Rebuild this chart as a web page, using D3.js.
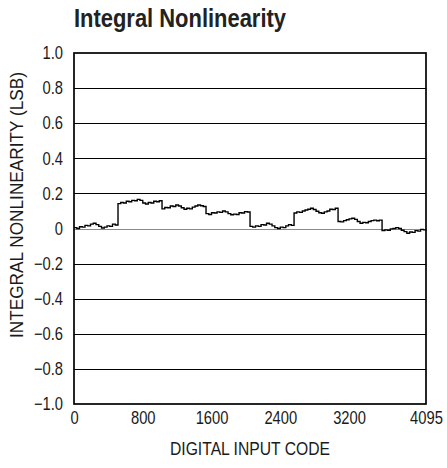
<!DOCTYPE html>
<html><head><meta charset="utf-8">
<script src="https://cdn.jsdelivr.net/npm/d3@7/dist/d3.min.js"></script>
<style>body{margin:0;background:#fff}svg{display:block}</style>
</head><body>
<script>
const title = "Integral Nonlinearity";
const xLabel = "DIGITAL INPUT CODE";
const yLabel = "INTEGRAL NONLINEARITY (LSB)";
const xTicks = [0, 800, 1600, 2400, 3200, 4095];
const yTicks = [-1.0, -0.8, -0.6, -0.4, -0.2, 0, 0.2, 0.4, 0.6, 0.8, 1.0];
const codeStep = 32;
// INL samples, one every 32 codes (0 .. 4064), plus final code 4095
const inl = [
  0.005, 0.0, 0.01, 0.008, 0.018, 0.015, 0.025, 0.03, 0.022, 0.012, 0.003, 0.008, 0.015, 0.012, 0.025, 0.02,
  0.142, 0.148, 0.145, 0.155, 0.152, 0.16, 0.158, 0.166, 0.16, 0.145, 0.14, 0.148, 0.145, 0.155, 0.152, 0.158,
  0.112, 0.12, 0.118, 0.128, 0.125, 0.134, 0.128, 0.118, 0.11, 0.115, 0.112, 0.122, 0.128, 0.134, 0.13, 0.125,
  0.085, 0.08, 0.09, 0.088, 0.095, 0.092, 0.1, 0.095, 0.085, 0.078, 0.082, 0.08, 0.09, 0.088, 0.096, 0.094,
  0.012, 0.008, 0.015, 0.012, 0.022, 0.02, 0.03, 0.025, 0.015, 0.005, 0.0, 0.008, 0.005, 0.015, 0.022, 0.018,
  0.088, 0.095, 0.092, 0.1, 0.105, 0.11, 0.115, 0.108, 0.098, 0.09, 0.087, 0.095, 0.1, 0.11, 0.108, 0.115,
  0.04, 0.038, 0.045, 0.05, 0.055, 0.058, 0.052, 0.04, 0.03, 0.035, 0.033, 0.04, 0.045, 0.048, 0.044, 0.048,
  -0.012, -0.008, -0.01, -0.002, 0.0, 0.005, 0.0, -0.01, -0.018, -0.027, -0.02, -0.022, -0.012, -0.015, -0.005, -0.008,
  -0.005
];

const W = 447, H = 468;
const m = {left: 74, right: 21, top: 53, bottom: 64};
const font = "'Liberation Sans', Arial, sans-serif";
const sx = 0.82;

const svg = d3.select("body").append("svg").attr("width", W).attr("height", H);
const x = d3.scaleLinear().domain([0, 4095]).range([m.left, W - m.right]);
const y = d3.scaleLinear().domain([-1, 1]).range([H - m.bottom, m.top]);

const fmt = v => v === 0 ? "0" : (v < 0 ? "\u2212" : "") + Math.abs(v).toFixed(1);

// gridlines
svg.append("g").selectAll("line").data(yTicks.filter(v => v > -1 && v < 1)).join("line")
  .attr("x1", x(0)).attr("x2", x(4095))
  .attr("y1", d => Math.round(y(d)) + 0.5).attr("y2", d => Math.round(y(d)) + 0.5)
  .attr("stroke", d => d === 0 ? "#8a8a8a" : "#000").attr("stroke-width", 1);

// data
const pts = inl.map((v, i) => [i < inl.length - 1 ? i * codeStep : 4095, v]);
svg.append("path").datum(pts)
  .attr("d", d3.line().x(d => x(d[0])).y(d => y(d[1])).curve(d3.curveStepAfter))
  .attr("fill", "none").attr("stroke", "#000").attr("stroke-width", 1.4);

// frame
svg.append("rect").attr("x", x(0)).attr("y", y(1)).attr("width", x(4095) - x(0)).attr("height", y(-1) - y(1))
  .attr("fill", "none").attr("stroke", "#000").attr("stroke-width", 1.7);

// y axis
const yAxis = d3.axisLeft(y).tickValues(yTicks).tickFormat(fmt).tickSize(0).tickPadding(11);
const gy = svg.append("g").attr("transform", `translate(${m.left},0)`).call(yAxis);
gy.select(".domain").remove();
gy.selectAll("text").attr("font-family", font).attr("font-size", 18).attr("fill", "#1a1a1a")
  .attr("x", -11 / sx).attr("transform", `scale(${sx},1)`);

// x axis
const xAxis = d3.axisBottom(x).tickValues(xTicks).tickFormat(d => String(d)).tickSize(0).tickPadding(7);
const gx = svg.append("g").attr("transform", `translate(0,${H - m.bottom})`).call(xAxis);
gx.select(".domain").remove();
gx.selectAll("text").attr("font-family", font).attr("font-size", 18).attr("fill", "#1a1a1a")
  .attr("transform", `scale(${sx},1)`);

// titles
svg.append("text").attr("x", 74).attr("y", 27).text(title)
  .attr("font-family", font).attr("font-weight", "bold").attr("font-size", 25).attr("fill", "#222")
  .attr("textLength", 212).attr("lengthAdjust", "spacingAndGlyphs");
svg.append("text").attr("x", (x(0) + x(4095)) / 2 - 80).attr("y", 455).text(xLabel)
  .attr("font-family", font).attr("font-size", 18).attr("fill", "#1a1a1a")
  .attr("textLength", 160).attr("lengthAdjust", "spacingAndGlyphs");
svg.append("text").attr("transform", `translate(23,${205 + 133}) rotate(-90)`).text(yLabel)
  .attr("font-family", font).attr("font-size", 18).attr("fill", "#1a1a1a")
  .attr("textLength", 266).attr("lengthAdjust", "spacingAndGlyphs");
</script>
</body></html>
